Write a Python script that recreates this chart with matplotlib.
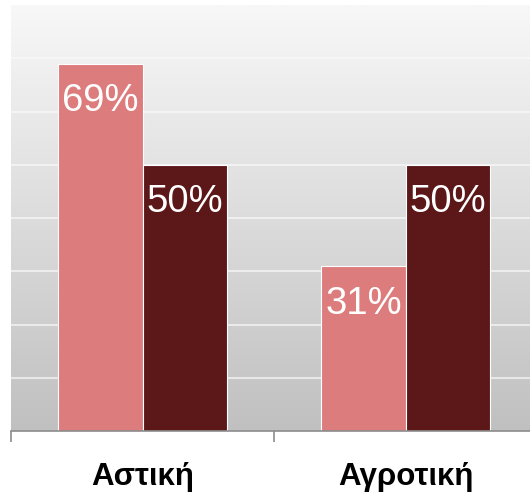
import numpy as np
import matplotlib
matplotlib.use("Agg")
import matplotlib.pyplot as plt
from matplotlib.colors import LinearSegmentedColormap

categories = ["Αστική", "Αγροτική"]
series_a = [69, 31]
series_b = [50, 50]
labels_a = ["69%", "31%"]
labels_b = ["50%", "50%"]

color_a = "#dd7c7c"
color_b = "#5c1819"

W, H = 530, 499
fig = plt.figure(figsize=(W / 100, H / 100), dpi=100)
left = 11 / W
width = (537 - 11) / W
bottom = (H - 431) / H
height = (431 - 5) / H
ax = fig.add_axes([left, bottom, width, height])

ax.set_xlim(-0.5, 1.5)
ax.set_ylim(0, 80)

cmap = LinearSegmentedColormap.from_list("bg", ["#c0c0c0", "#f8f8f8"])
grad = np.linspace(0, 1, 256).reshape(-1, 1)
ax.imshow(grad, extent=[-0.5, 1.5, 0, 80], origin="lower", aspect="auto",
          cmap=cmap, zorder=0)

for yv in range(10, 80, 10):
    ax.axhline(yv, color="#fafafa", lw=1.2, zorder=1, alpha=0.8)

x = np.arange(len(categories))
bw = 0.32
bars_a = ax.bar(x - bw / 2, series_a, bw, color=color_a, edgecolor="white",
                linewidth=0.8, zorder=2)
bars_b = ax.bar(x + bw / 2, series_b, bw, color=color_b, edgecolor="white",
                linewidth=0.8, zorder=2)

for bars, labs in ((bars_a, labels_a), (bars_b, labels_b)):
    for b, t in zip(bars, labs):
        ax.text(b.get_x() + b.get_width() / 2, b.get_height() - 3.7, t,
                ha="center", va="top", color="white", fontsize=27.5,
                family="Liberation Sans", zorder=3)

for s in ("top", "right", "left"):
    ax.spines[s].set_visible(False)
ax.spines["bottom"].set_color("#8c8c8c")
ax.spines["bottom"].set_linewidth(1.2)
ax.set_yticks([])
ax.set_xticks([-0.5, 0.5, 1.5])
ax.set_xticklabels([])
ax.tick_params(axis="x", length=8, color="#8c8c8c", width=1.2)

for xi, c in zip(x, categories):
    ax.text(xi, -8.6, c, ha="center", va="center", fontsize=22.5,
            fontweight="bold", family="Liberation Sans", color="black",
            clip_on=False)

fig.savefig("out.png", dpi=100)
